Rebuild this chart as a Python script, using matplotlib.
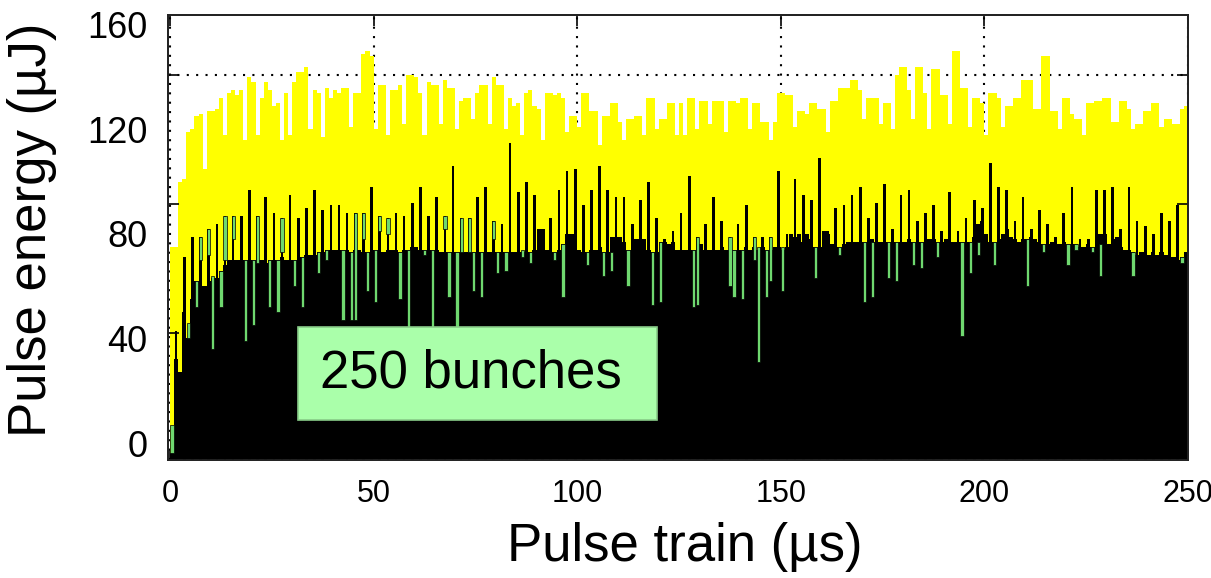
import numpy as np
import matplotlib
matplotlib.use("Agg")
import matplotlib.pyplot as plt
from matplotlib.patches import Rectangle

plt.rcParams['font.family'] = ['Liberation Sans', 'DejaVu Sans']

# pulse energy per bunch (uJ), 250 bunches along the train
yellow_energy = [75,75,100,101,119,120,125,126,105,127,
                 127,128,132,118,134,135,133,135,116,140,
                 138,118,132,138,135,129,130,116,134,118,
                 138,142,142,144,120,135,134,117,136,132,
                 135,134,136,136,121,134,134,149,150,148,
                 120,137,137,118,135,135,137,122,141,141,
                 140,134,118,138,137,137,122,139,136,136,
                 120,131,132,132,124,134,137,137,122,140,
                 137,137,120,132,129,130,118,134,135,129,
                 128,116,134,134,133,134,132,119,125,125,
                 121,134,134,127,127,114,125,125,130,130,
                 123,116,124,124,125,125,118,132,132,120,
                 124,124,130,130,118,130,118,132,132,120,
                 131,131,122,131,131,131,119,131,131,130,
                 132,132,120,130,130,123,123,116,123,134,
                 134,133,133,121,127,127,126,130,130,128,
                 128,119,131,131,136,136,136,139,139,135,
                 124,132,132,132,122,130,130,120,141,144,
                 144,135,124,144,144,134,120,143,143,133,
                 133,122,150,150,136,136,121,132,132,130,
                 118,134,134,132,121,129,129,132,132,139,
                 139,139,128,128,148,148,127,127,120,132,
                 132,126,124,124,118,130,130,131,131,132,
                 132,123,123,131,131,128,120,122,122,127,
                 127,130,130,121,124,124,122,122,128,129]

black_energy = [-4,32,27,50,40,55,62,60,60,62,
                63,63,66,68,70,70,70,70,70,70,
                70,70,70,69,70,70,70,71,70,70,
                70,70,71,72,72,72,73,73,74,74,
                74,74,74,74,73,74,74,73,73,74,
                74,73,73,74,74,74,73,74,74,75,
                75,74,74,74,74,74,73,73,73,73,
                73,73,73,73,73,73,73,73,73,73,
                73,73,73,73,73,73,73,73,73,74,
                82,82,74,73,73,74,76,80,80,80,
                74,73,73,74,74,75,73,73,79,79,
                79,77,74,74,78,78,78,74,73,73,
                77,77,76,77,74,74,74,74,74,74,
                76,74,74,74,74,75,74,74,74,74,
                74,75,74,75,74,75,74,74,75,75,
                74,75,80,79,80,77,80,78,75,75,
                81,80,76,75,75,76,77,77,77,77,
                77,77,78,77,77,77,77,77,77,77,
                77,78,77,77,77,77,78,78,77,77,
                78,77,77,77,77,77,77,79,84,85,
                80,77,77,78,80,82,79,78,77,78,
                78,79,78,77,76,76,77,76,76,77,
                76,76,76,75,75,76,75,75,80,80,
                76,78,79,75,74,74,73,72,73,73,
                72,73,72,73,72,71,71,70,71,73]

# single-bunch readings on the odd bunches
spike_bunch = list(range(1, 250, 2))
spike_energy = [43,71,79,79,82,84,87,87,87,97,87,94,88,86,95,86,90,97,89,91,
                91,88,88,88,98,87,86,88,87,92,98,87,94,87,106,86,86,94,98,85,84,
                115,96,100,95,82,86,97,104,105,91,97,106,97,94,94,84,93,100,86,78,81,
                88,102,79,84,94,85,79,84,91,79,79,79,104,80,101,95,93,109,81,90,91,
                95,98,86,92,99,82,95,97,85,88,91,81,96,81,86,93,90,107,98,97,85,
                94,82,89,84,79,88,98,78,78,97,97,98,82,98,85,83,80,88,85,91,73]

green_bunch = [0,4,6,7,9,10,12,13,15,18,20,21,24,26,27,30,32,36,38,
               42,44,45,47,48,50,51,53,56,58,62,64,67,68,70,71,73,74,76,79,80,82,
               86,88,94,96,102,106,108,112,118,120,
               128,129,137,138,140,143,144,146,147,150,158,164,
               170,172,176,178,182,184,188,194,196,198,202,
               210,214,220,222,226,228,236,248]
green_low = [-4,40,52,70,72,36,52,70,78,39,45,69,52,50,73,60,52,65,70,
             47,47,47,78,58,54,81,80,55,42,72,42,82,56,42,73,73,58,56,78,65,66,
             71,69,70,56,68,64,66,60,53,54,
             52,53,60,56,55,70,31,56,62,58,63,72,
             54,56,63,62,68,67,71,41,65,72,68,
             60,73,68,74,73,64,64,69]
green_high = [7,46,62,79,82,64,66,87,87,70,70,87,70,70,86,70,71,73,74,
              74,73,88,88,73,74,87,86,73,74,74,74,87,73,73,86,86,73,73,85,73,73,
              74,73,73,76,73,73,73,74,73,77,
              74,79,79,74,74,79,75,74,79,75,75,75,
              77,77,77,77,77,77,77,77,77,77,77,
              78,76,76,76,75,76,73,71]

y_tick_values = [0, 40, 80, 120, 160]
x_tick_values = [0, 50, 100, 150, 200, 250]
frame_ticks = [42, 91.5, 141]

y_floor, y_top = -6.5, 163.8
x_left, x_right = -0.5, 250.0

fig = plt.figure(figsize=(12.11, 5.78), dpi=100)
ax = fig.add_axes([168/1211, 118/578, 1020/1211, 445/578])

pos = np.arange(len(yellow_energy)) + 0.5
ax.bar(pos, np.array(yellow_energy) - y_floor, bottom=y_floor, width=1.0,
       color='#ffff00', linewidth=0, zorder=1)
ax.bar(pos, np.array(black_energy) - y_floor, bottom=y_floor, width=1.0,
       color='black', linewidth=0, zorder=2)
ax.bar(np.array(spike_bunch) + 0.5, np.array(spike_energy) - y_floor, bottom=y_floor,
       width=0.65, color='black', linewidth=0, zorder=3)
ax.bar(np.array(green_bunch) + 0.5, np.array(green_high) - np.array(green_low),
       bottom=green_low, width=0.8, color='#6fd86f', edgecolor='black',
       linewidth=0.5, zorder=4)

ax.set_xlim(x_left, x_right)
ax.set_ylim(y_floor, y_top)

ax.set_axisbelow(True)
ax.set_xticks(x_tick_values)
ax.grid(axis='x', color='black', linestyle=(0, (1, 3.5)), linewidth=1.5)
ax.axhline(frame_ticks[-1], color='black', linestyle=(0, (1, 3.5)),
           linewidth=1.5, zorder=0.5)

ax.set_yticks(y_tick_values)
ax.tick_params(axis='y', length=0, pad=15, labelsize=26)
ax.tick_params(axis='x', direction='in', top=True, length=8, width=1.2,
               pad=14, labelsize=22)

ax2 = ax.twinx()
ax2.set_ylim(y_floor, y_top)
ax2.set_yticks(frame_ticks)
ax2.tick_params(axis='y', direction='in', left=True, right=True,
                labelright=False, length=8, width=1.2)

for a in (ax, ax2):
    for s in a.spines.values():
        s.set_color('#222222')
        s.set_linewidth(1.3)

ax.set_xlabel('Pulse train (µs)', fontsize=38)
ax.xaxis.set_label_coords(0.507, -0.14)
ax.set_ylabel('Pulse energy (µJ)', fontsize=38)
ax.yaxis.set_label_coords(-0.109, 0.517)

ax.add_patch(Rectangle((31.5, 8.8), 88.0, 35.6, facecolor='#aaffaa',
                       edgecolor='#88cc88', linewidth=1.2, zorder=5))
ax.text(73.8, 26.6, '250 bunches', fontsize=38, ha='center', va='center', zorder=6)

fig.savefig('out.png', dpi=100)
